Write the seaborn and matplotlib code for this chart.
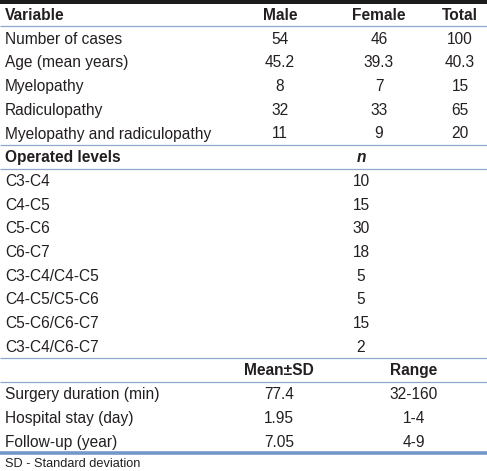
import matplotlib
matplotlib.use("Agg")
import matplotlib.pyplot as plt
from matplotlib import font_manager
import seaborn as sns

# 表格数据
demo_header = ["Variable", "Male", "Female", "Total"]
demo_rows = ["Number of cases", "Age (mean years)", "Myelopathy",
             "Radiculopathy", "Myelopathy and radiculopathy"]
male = ["54", "45.2", "8", "32", "11"]
female = ["46", "39.3", "7", "33", "9"]
total = ["100", "40.3", "15", "65", "20"]

level_header = ["Operated levels", "n"]
levels = ["C3-C4", "C4-C5", "C5-C6", "C6-C7", "C3-C4/C4-C5",
          "C4-C5/C5-C6", "C5-C6/C6-C7", "C3-C4/C6-C7"]
level_n = ["10", "15", "30", "18", "5", "5", "15", "2"]

stat_header = ["", "Mean\u00b1SD", "Range"]
stat_rows = ["Surgery duration (min)", "Hospital stay (day)", "Follow-up (year)"]
stat_mean = ["77.4", "1.95", "7.05"]
stat_range = ["32-160", "1-4", "4-9"]

footnote = "SD - Standard deviation"

sns.set_theme(style="white")
# 优先用窄体字体, 没有就退回普通字体
installed = {f.name for f in font_manager.fontManager.ttflist}
families = [f for f in ['Liberation Sans Narrow', 'DejaVu Sans Condensed',
                        'Liberation Sans', 'DejaVu Sans'] if f in installed]
plt.rcParams['font.family'] = families

TEXT = "#231f20"
RULE = "#8ea8cc"
PITCH = 23.7

fig = plt.figure(figsize=(4.87, 4.71), dpi=100)
ax = fig.add_axes([0, 0, 1, 1])
ax.set_xlim(0, 487)
ax.set_ylim(471, 0)
ax.axis("off")


def fit_size(s, target):
    # 按目标像素宽度求字号
    probe = ax.text(0, 0, s, fontsize=12)
    w = probe.get_window_extent(fig.canvas.get_renderer()).width
    probe.remove()
    return 12 * target / w


FS = fit_size(demo_rows[-1], 208)
FS_NOTE = fit_size(footnote, 136)

x_lab = 5
x_male, x_female, x_total = 280, 379, 460
x_n = 361
x_mean, x_range = 279, 414


def txt(x, y, s, ha="center", bold=False, italic=False, size=None):
    ax.text(x, y, s, ha=ha, va="center", fontsize=size or FS, color=TEXT,
            fontweight="bold" if bold else "normal",
            fontstyle="italic" if italic else "normal")


def rule(y, lw=0.9, color=RULE):
    ax.plot([0, 487], [y, y], color=color, lw=lw, solid_capstyle="butt")


# 顶部粗黑线
ax.fill_between([0, 487], 0, 3.5, color="#1c1c1c", lw=0)

y = 15.5
txt(x_lab, y, demo_header[0], ha="left", bold=True)
for x, s in zip([x_male, x_female, x_total], demo_header[1:]):
    txt(x, y, s, bold=True)
rule(y + PITCH / 2 - 1)

for lab, m, f, t in zip(demo_rows, male, female, total):
    y += PITCH
    txt(x_lab, y, lab, ha="left")
    txt(x_male, y, m)
    txt(x_female, y, f)
    txt(x_total, y, t)
rule(y + PITCH / 2 - 1)

y += PITCH
txt(x_lab, y, level_header[0], ha="left", bold=True)
txt(x_n, y, level_header[1], bold=True, italic=True)
rule(y + PITCH / 2 - 1)

for lab, n in zip(levels, level_n):
    y += PITCH
    txt(x_lab, y, lab, ha="left")
    txt(x_n, y, n)
rule(y + PITCH / 2 - 1)

y += PITCH
txt(x_mean, y, stat_header[1], bold=True)
txt(x_range, y, stat_header[2], bold=True)
rule(y + PITCH / 2 - 1)

for lab, m, r in zip(stat_rows, stat_mean, stat_range):
    y += PITCH
    txt(x_lab, y, lab, ha="left")
    txt(x_mean, y, m)
    txt(x_range, y, r)
rule(y + PITCH / 2 - 0.5, lw=2.6, color="#7399c9")

y += PITCH - 1.5
txt(x_lab, y, footnote, ha="left", size=FS_NOTE)

fig.savefig("out.png", dpi=100)
